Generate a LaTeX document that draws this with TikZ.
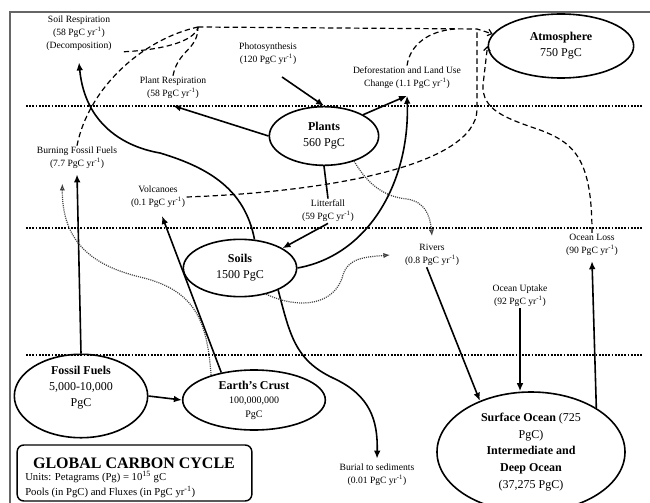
\documentclass[tikz,border=0pt]{standalone}
\usepackage{fontspec}
\setmainfont{Liberation Serif}
\usepackage{tikz}
\usetikzlibrary{shapes.geometric,arrows.meta}

\newcommand{\pgcyr}{PgC yr\textsuperscript{-1}}

\tikzset{
  pool/.style={ellipse, draw, line width=1.2pt, inner sep=0pt, align=center, font=\fontsize{9}{12}\selectfont},
  flux/.style={inner sep=1pt, align=center, font=\fontsize{7.2}{9.6}\selectfont},
  flow/.style={line width=1.2pt, -{Latex[length=6pt,width=5pt]}},
  gas/.style={line width=0.9pt, dash pattern=on 4pt off 2.5pt},
  gasin/.style={gas, -{Straight Barb[length=3pt,width=5pt]}},
  drip/.style={line width=0.9pt, black!75, dash pattern=on 0.8pt off 0.8pt, -{Latex[open,length=5pt,width=4pt]}},
  layerline/.style={line width=1.6pt, dash pattern=on 1.3pt off 1.1pt}
}

\begin{document}
\begin{tikzpicture}[x=0.75pt,y=-0.75pt]
\useasboundingbox (0,0) rectangle (650,503);
%\draw[help lines,step=50] (0,0) grid (650,503);

% frame and the three layer boundaries
\draw[black!60, line width=1pt] (10,503) -- (10,12) -- (650,12);
\foreach \y in {106,228,355}{
  \draw[layerline] (26,\y) -- (642,\y);
}

% pools
\node[pool, minimum width=109pt, minimum height=48pt] (atm) at (561,46) {\textbf{Atmosphere}\\750 PgC};
\node[pool, minimum width=82pt, minimum height=44pt] (plants) at (324,136) {\textbf{Plants}\\560 PgC};
\node[pool, minimum width=85pt, minimum height=43pt] (soils) at (240,268) {\textbf{Soils}\\1500 PgC};
\node[pool, minimum width=100pt, minimum height=47pt] (fossil) at (81,396) {\textbf{Fossil Fuels}\\5,000-10,000\\PgC\\[2pt]};
\node[pool, minimum width=107pt, minimum height=45pt, font=\fontsize{7.5}{10.5}\selectfont] (crust) at (254,400) {{\fontsize{9}{10.5}\selectfont\textbf{Earth's Crust}}\\100,000,000\\PgC};
\node[pool, minimum width=141pt, minimum height=90pt, font=\fontsize{9}{12.4}\selectfont] (ocean) at (531,452) {\textbf{Surface Ocean} (725\\PgC)\\\textbf{Intermediate and}\\\textbf{Deep Ocean}\\(37,275 PgC)};

% fluxes
\node[flux] (soilresp) at (79,33) {Soil Respiration\\(58 \pgcyr)\\(Decomposition)};
\node[flux] (plantresp) at (173,88) {Plant Respiration\\(58 \pgcyr)};
\node[flux] (photo) at (268,54) {Photosynthesis\\(120 \pgcyr)};
\node[flux] (defor) at (407,78) {Deforestation and Land Use\\Change (1.1 \pgcyr)};
\node[flux] (burning) at (77,158) {Burning Fossil Fuels\\(7.7 \pgcyr)};
\node[flux] (volc) at (158,197) {Volcanoes\\(0.1 \pgcyr)};
\node[flux] (litter) at (328,211) {Litterfall\\(59 \pgcyr)};
\node[flux] (rivers) at (432,255) {Rivers\\(0.8 \pgcyr)};
\node[flux] (uptake) at (520,296) {Ocean Uptake\\(92 \pgcyr)};
\node[flux] (oceanloss) at (592,245) {Ocean Loss\\(90 \pgcyr)};
\node[flux] (burial) at (377,475) {Burial to sediments\\(0.01 \pgcyr)};

% key
\node[draw, rounded corners=5pt, line width=1.1pt, minimum width=176pt, minimum height=42pt] (key) at (134.5,473) {};
\node[font=\fontsize{12}{13}\selectfont\bfseries] (keytitle) at (134,463) {GLOBAL CARBON CYCLE};
\node[font=\fontsize{8}{9}\selectfont, anchor=west, inner sep=0pt] (keyunits) at (25,477) {Units: Petagrams (Pg) = 10\textsuperscript{15} gC};
\node[font=\fontsize{8}{9}\selectfont, anchor=west, inner sep=0pt] (keypools) at (25,492) {Pools (in PgC) and Fluxes (in \pgcyr)};

\coordinate (photoin) at (282,77);
\coordinate (jleft) at (198,27);
\coordinate (jright) at (477,29);
\coordinate (jdefor) at (455,29);

% solid fluxes
\draw[flow] (photoin) -- (plants.north);
\draw[flow] (plants.west) -- ([yshift=-4pt]plantresp.south);
\draw[flow] (plants.north east) -- ([yshift=-4pt]defor.south);
\draw[flow] (soils.east) .. controls (370,255) and (410,180) .. ([yshift=-4pt]defor.south);
\draw[flow] (soils.63) .. controls (245,190) and (210,168) .. (160,153) .. controls (125,147) and (85,125) .. ([yshift=-8pt]soilresp.south);
\draw[line width=1.2pt] (plants.south) -- (litter.north);
\draw[flow] (litter.south) -- (soils.25);
\draw[flow] (crust.140) -- ([xshift=3pt,yshift=-5pt]volc.south);
\draw[flow] (fossil.north) -- ([yshift=-3pt]burning.south);
\draw[flow] (fossil.east) -- (crust.west);
\draw[flow] (soils.-30) .. controls (290,335) and (295,360) .. (333,378) .. controls (370,395) and (378,420) .. ([yshift=3pt]burial.north);
\draw[flow] ([xshift=-4pt]rivers.south) -- (ocean.135);
\draw[flow] (uptake.south) -- (uptake.south |- ocean.north);
\draw[flow] (ocean.34) -- ([yshift=-3pt]oceanloss.south);

% dotted fluxes
\draw[drip] (crust.150) .. controls (207,320) and (195,290) .. (140,277) .. controls (90,265) and (62,240) .. ([xshift=-11pt,yshift=-10pt]burning.south);
\draw[drip] (plants.-40) .. controls (368,185) and (385,197) .. (407,199) .. controls (425,202) and (430,215) .. ([yshift=5pt]rivers.north);
\draw[drip] (soils.-45) .. controls (300,310) and (335,305) .. (343,275) .. controls (348,258) and (365,257) .. ([xshift=-10pt]rivers.west);

% dashed fluxes into the atmosphere
\draw[gas] (burning.north) .. controls (88,90) and (140,40) .. (jleft);
\draw[gas] ([xshift=8pt,yshift=0pt]soilresp.south east) .. controls (160,50) and (195,42) .. (jleft);
\draw[gas] (plantresp.north) .. controls (178,50) and (198,50) .. (jleft);
\draw[gas] (defor.north) .. controls (410,45) and (428,31) .. (jdefor);
\draw[gas] (volc.east) .. controls (330,192) and (475,165) .. (477,110) -- (jright);
\draw[gasin] (jleft) -- (jright) -- (atm.170);
\draw[gasin] (oceanloss.north) .. controls (592,160) and (575,143) .. (540,130) .. controls (505,118) and (482,110) .. (483,85) -- (atm.west);
\end{tikzpicture}
\end{document}
